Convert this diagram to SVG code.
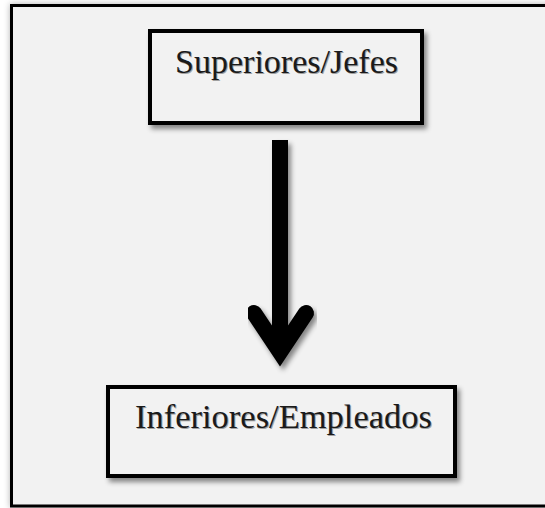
<svg xmlns="http://www.w3.org/2000/svg" width="545" height="508" viewBox="0 0 545 508">
<defs>
<style>
.box{fill:#f2f2f2;stroke:#000;stroke-width:4;filter:url(#sh)}
text{font-family:'Liberation Serif','DejaVu Serif',serif;font-size:34px;text-anchor:middle}
.lbl{fill:#1a1a1a}
.lsh{fill:#a0a0a0}
</style>
<filter id="sh" x="-10%" y="-10%" width="130%" height="140%">
<feDropShadow dx="3" dy="4" stdDeviation="2.5" flood-color="#000" flood-opacity="0.45"/>
</filter>
<filter id="fsh" x="-5%" y="-5%" width="110%" height="110%">
<feDropShadow dx="0" dy="0" stdDeviation="3" flood-color="#000" flood-opacity="0.3"/>
</filter>
</defs>
<rect width="545" height="508" fill="#fff"/>
<rect id="frame" x="11.5" y="5.5" width="545" height="500.5" fill="#f2f2f2" stroke="#000" stroke-width="3" filter="url(#fsh)"/>
<g id="connectors" filter="url(#sh)">
<rect x="272" y="140" width="16" height="214" fill="#000"/>
<path d="M254 313 L280 352 L306 313" fill="none" stroke="#000" stroke-width="16" stroke-linecap="round" stroke-linejoin="miter"/>
</g>
<g id="superiores">
<rect class="box" x="150" y="31" width="272" height="92"/>
<text class="lsh" x="287.5" y="74" font-family="Liberation Serif, serif" textLength="223" lengthAdjust="spacingAndGlyphs">Superiores/Jefes</text>
<text class="lbl" x="286.5" y="73" font-family="Liberation Serif, serif" textLength="223" lengthAdjust="spacingAndGlyphs">Superiores/Jefes</text>
</g>
<g id="inferiores">
<rect class="box" x="108" y="387" width="347" height="89"/>
<text class="lsh" x="284.5" y="429" font-family="Liberation Serif, serif" textLength="297" lengthAdjust="spacingAndGlyphs">Inferiores/Empleados</text>
<text class="lbl" x="283.5" y="428" font-family="Liberation Serif, serif" textLength="297" lengthAdjust="spacingAndGlyphs">Inferiores/Empleados</text>
</g>
</svg>
